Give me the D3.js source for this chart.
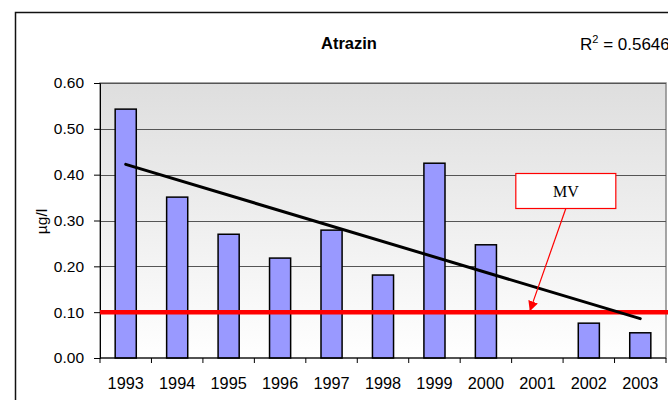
<!DOCTYPE html>
<html>
<head>
<meta charset="utf-8">
<script src="https://cdn.jsdelivr.net/npm/d3@7"></script>
<style>
  body { margin: 0; background: #fff; }
  svg { display: block; font-family: "Liberation Sans", Arial, sans-serif; }
</style>
</head>
<body>
<div id="chart"></div>
<script>
const years = ["1993", "1994", "1995", "1996", "1997", "1998", "1999", "2000", "2001", "2002", "2003"];
const values = [0.543, 0.351, 0.270, 0.218, 0.279, 0.181, 0.425, 0.247, null, 0.076, 0.055];
const yTicks = [0.0, 0.1, 0.2, 0.3, 0.4, 0.5, 0.6];
const trendYears = ["1993", "2003"];
const trendValues = [0.4225, 0.0858];
const limitValue = 0.10;
const limitLabel = "MV";
const rSquared = "0.5646";

const width = 668, height = 400;
const margin = { top: 83, right: 2, bottom: 42, left: 100 };

const svg = d3.select("#chart").append("svg")
    .attr("width", width)
    .attr("height", height);

const x = d3.scaleBand()
    .domain(years)
    .range([margin.left, width - margin.right])
    .paddingInner(0.59)
    .paddingOuter(0.295);

const y = d3.scaleLinear()
    .domain([0, 0.6])
    .range([height - margin.bottom, margin.top]);

// outer chart border
svg.append("rect")
    .attr("x", 15.5).attr("y", 12.5)
    .attr("width", 700).attr("height", 420)
    .attr("fill", "#fff")
    .attr("stroke", "#111")
    .attr("stroke-width", 1.5);

// plot area gradient
const defs = svg.append("defs");
const grad = defs.append("linearGradient")
    .attr("id", "bg").attr("x1", 0).attr("y1", 0).attr("x2", 0).attr("y2", 1);
grad.append("stop").attr("offset", "0%").attr("stop-color", "#dedede");
grad.append("stop").attr("offset", "100%").attr("stop-color", "#ffffff");

svg.append("rect")
    .attr("x", margin.left)
    .attr("y", y(0.6))
    .attr("width", x.range()[1] - margin.left)
    .attr("height", y(0) - y(0.6))
    .attr("fill", "url(#bg)")
    .attr("stroke", "#888")
    .attr("stroke-width", 1.5);

// gridlines
svg.append("g")
    .selectAll("line")
    .data(yTicks.filter(d => d > 0))
    .join("line")
    .attr("x1", margin.left)
    .attr("x2", x.range()[1])
    .attr("y1", d => Math.round(y(d)) + 0.5)
    .attr("y2", d => Math.round(y(d)) + 0.5)
    .attr("stroke", "#555")
    .attr("stroke-width", 1.2);

// bars
svg.append("g")
    .selectAll("rect")
    .data(years.map((yr, i) => ({ yr, v: values[i] })).filter(d => d.v != null))
    .join("rect")
    .attr("x", d => x(d.yr))
    .attr("y", d => y(d.v))
    .attr("width", x.bandwidth())
    .attr("height", d => y(0) - y(d.v))
    .attr("fill", "#9999ff")
    .attr("stroke", "#000")
    .attr("stroke-width", 1.5);

// y axis
const yAxis = svg.append("g")
    .attr("transform", `translate(${margin.left},0)`)
    .call(d3.axisLeft(y).tickValues(yTicks).tickFormat(d3.format(".2f")).tickSize(6).tickPadding(10));
yAxis.select(".domain").attr("stroke", "#000");
yAxis.selectAll("text").attr("font-size", 15.5).attr("fill", "#000")
    .attr("font-family", "Liberation Sans, Arial, sans-serif");

// x axis with ticks at band boundaries
const step = x.step();
const xAxis = svg.append("g")
    .attr("transform", `translate(0,${y(0)})`);
xAxis.append("line")
    .attr("x1", margin.left).attr("x2", x.range()[1])
    .attr("stroke", "#000");
xAxis.selectAll("line.tick")
    .data(d3.range(years.length + 1))
    .join("line")
    .attr("class", "tick")
    .attr("x1", i => margin.left + i * step)
    .attr("x2", i => margin.left + i * step)
    .attr("y1", 0).attr("y2", 5)
    .attr("stroke", "#000");
xAxis.selectAll("text")
    .data(years)
    .join("text")
    .attr("x", d => x(d) + x.bandwidth() / 2)
    .attr("y", 31)
    .attr("text-anchor", "middle")
    .attr("font-size", 16.3)
    .text(d => d);

// y axis title
svg.append("text")
    .attr("transform", `translate(47,${(y(0) + y(0.6)) / 2 + 1}) rotate(-90)`)
    .attr("text-anchor", "middle")
    .attr("font-size", 15.5)
    .text("µg/l");

// title
svg.append("text")
    .attr("x", 349).attr("y", 49)
    .attr("text-anchor", "middle")
    .attr("font-size", 16.5)
    .attr("font-weight", "bold")
    .text("Atrazin");

// R squared
const r2 = svg.append("text")
    .attr("x", 580).attr("y", 50)
    .attr("font-size", 17);
r2.append("tspan").text("R");
r2.append("tspan").attr("dy", -7).attr("font-size", 11).text("2");
r2.append("tspan").attr("dy", 7).text(" = " + rSquared);

// limit line
svg.append("line")
    .attr("x1", margin.left).attr("x2", x.range()[1] + 2)
    .attr("y1", y(limitValue)).attr("y2", y(limitValue))
    .attr("stroke", "#ff0000")
    .attr("stroke-width", 4.5);

// trend line
svg.append("path")
    .datum(trendYears.map((yr, i) => ({ yr, v: trendValues[i] })))
    .attr("fill", "none")
    .attr("stroke", "#000")
    .attr("stroke-width", 3)
    .attr("stroke-linecap", "round")
    .attr("d", d3.line().x(d => x(d.yr) + x.bandwidth() / 2).y(d => y(d.v)));

// MV callout
defs.append("marker")
    .attr("id", "arrow")
    .attr("viewBox", "0 0 10 10")
    .attr("refX", 10).attr("refY", 5)
    .attr("markerWidth", 10).attr("markerHeight", 11)
    .attr("markerUnits", "userSpaceOnUse")
    .attr("orient", "auto")
    .append("path")
    .attr("d", "M0,0L10,5L0,10z")
    .attr("fill", "#ff0000");

const boxX = x("2001") - 11, boxY = 173.5, boxW = 100, boxH = 35;
svg.append("rect")
    .attr("x", boxX).attr("y", boxY)
    .attr("width", boxW).attr("height", boxH)
    .attr("fill", "#fff")
    .attr("stroke", "#ff0000")
    .attr("stroke-width", 1.2);
svg.append("text")
    .attr("x", boxX + boxW / 2).attr("y", boxY + 23)
    .attr("text-anchor", "middle")
    .attr("font-family", "Liberation Serif, Times New Roman, serif")
    .attr("font-size", 16)
    .text(limitLabel);
svg.append("line")
    .attr("x1", boxX + boxW / 2).attr("y1", boxY + boxH)
    .attr("x2", x("2001") + 3).attr("y2", y(limitValue) - 1)
    .attr("stroke", "#ff0000")
    .attr("stroke-width", 1.2)
    .attr("marker-end", "url(#arrow)");
</script>
</body>
</html>
